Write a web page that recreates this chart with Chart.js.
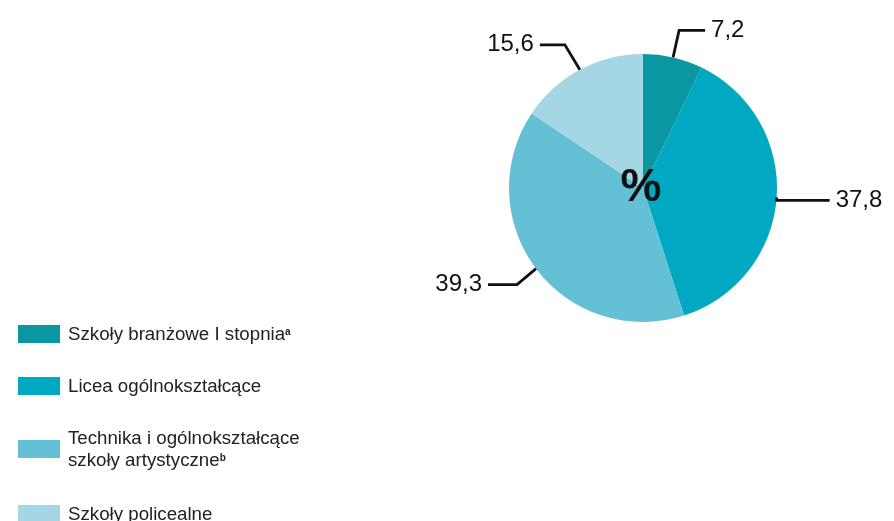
<!DOCTYPE html>
<html lang="pl">
<head>
<meta charset="utf-8">
<script src="https://cdn.jsdelivr.net/npm/chart.js@4.4.1/dist/chart.umd.min.js"></script>
<style>
    html, body { margin: 0; padding: 0; background: #fff; }
    body { width: 894px; height: 521px; position: relative; overflow: hidden; font-family: "Liberation Sans", Arial, sans-serif; }
    #chartWrap { position: absolute; left: 0; top: 0; width: 894px; height: 521px; }
    #legend { position: absolute; left: 18px; top: 323px; color: #222; font-size: 18.7px; line-height: 22px; }
    .item { display: flex; align-items: center; margin-bottom: 30px; }
    .item:nth-child(3) { margin-bottom: 32px; }
    .box { width: 42px; height: 18px; margin-right: 8px; flex: none; }
    sup { font-size: 10px; font-weight: bold; vertical-align: 5px; line-height: 0; }
</style>
</head>
<body>
<div id="chartWrap"><canvas id="pieChart"></canvas></div>
<div id="legend"></div>
<script>
const categories = [
    "Szkoły branżowe I stopnia",
    "Licea ogólnokształcące",
    "Technika i ogólnokształcące\nszkoły artystyczne",
    "Szkoły policealne"
];
const footnotes = ["a", "", "b", ""];
const shares = [7.2, 37.8, 39.3, 15.6];
const colors = ["#0b97a1", "#00a8c2", "#64c0d5", "#a4d6e3"];

// leader line shape for each slice: elbow offset from the slice edge, then horizontal arm
const leaders = [
    { dx: 6, dy: -27, arm: 26 },
    { dx: 0, dy: 3, arm: 53 },
    { dx: -19, dy: 16, arm: -29 },
    { dx: -15, dy: -25, arm: -25 }
];

function fmt(v) {
    return v.toFixed(1).replace(".", ",");
}

const leaderPlugin = {
    id: "leaders",
    afterDatasetsDraw(chart) {
        const ctx = chart.ctx;
        const meta = chart.getDatasetMeta(0);
        ctx.save();
        ctx.strokeStyle = "#111";
        ctx.lineWidth = 2.8;
        ctx.fillStyle = "#111";
        ctx.font = "24px 'Liberation Sans', Arial, sans-serif";
        ctx.textBaseline = "middle";
        meta.data.forEach((arc, i) => {
            const p = arc.getProps(["x", "y", "startAngle", "endAngle", "outerRadius"], true);
            const mid = (p.startAngle + p.endAngle) / 2;
            const sx = p.x + Math.cos(mid) * p.outerRadius;
            const sy = p.y + Math.sin(mid) * p.outerRadius;
            const g = leaders[i];
            const ex = sx + g.dx, ey = sy + g.dy;
            const ax = ex + g.arm;
            ctx.beginPath();
            ctx.moveTo(sx, sy);
            ctx.lineTo(ex, ey);
            ctx.lineTo(ax, ey);
            ctx.stroke();
            ctx.textAlign = g.arm > 0 ? "left" : "right";
            ctx.fillText(fmt(shares[i]), ax + (g.arm > 0 ? 6 : -6), ey);
        });
        // centre mark
        const c = meta.data[0];
        ctx.font = "bold 46px 'Liberation Sans', Arial, sans-serif";
        ctx.textAlign = "center";
        ctx.fillStyle = "#111";
        ctx.fillText("%", c.x - 2, c.y);
        ctx.restore();
    }
};

new Chart(document.getElementById("pieChart").getContext("2d"), {
    type: "pie",
    data: {
        labels: categories,
        datasets: [{
            data: shares,
            backgroundColor: colors,
            borderWidth: 0
        }]
    },
    options: {
        responsive: true,
        maintainAspectRatio: false,
        animation: false,
        layout: { padding: { left: 509, right: 117, top: 54, bottom: 199 } },
        plugins: { legend: { display: false }, tooltip: { enabled: false } }
    },
    plugins: [leaderPlugin]
});

const legend = document.getElementById("legend");
categories.forEach((name, i) => {
    const item = document.createElement("div");
    item.className = "item";
    const box = document.createElement("span");
    box.className = "box";
    box.style.background = colors[i];
    const text = document.createElement("span");
    text.innerHTML = name.replace("\n", "<br>") + (footnotes[i] ? "<sup>" + footnotes[i] + "</sup>" : "");
    item.appendChild(box);
    item.appendChild(text);
    legend.appendChild(item);
});
</script>
</body>
</html>
